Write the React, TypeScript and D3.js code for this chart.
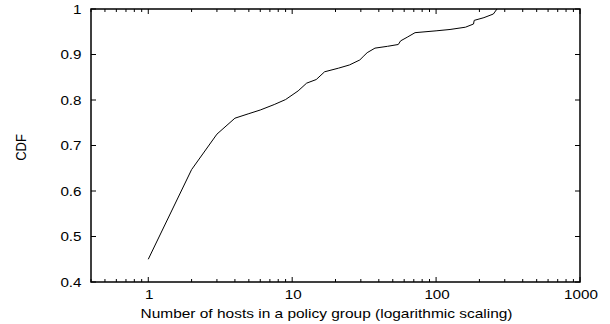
import React from "react";
import * as d3 from "d3";

const hosts = [1, 2, 3, 4, 5, 6, 7.5, 9, 11, 12.6, 14.7, 16.8, 21, 25, 29.5, 31.5, 33.2, 37.6, 46, 54.6, 56.7, 63, 71.4, 100, 125, 160, 182, 184, 215, 250, 265];
const cdf = [0.45, 0.647, 0.725, 0.76, 0.77, 0.778, 0.79, 0.801, 0.82, 0.837, 0.845, 0.862, 0.87, 0.877, 0.888, 0.897, 0.904, 0.914, 0.918, 0.922, 0.930, 0.938, 0.948, 0.952, 0.955, 0.96, 0.967, 0.975, 0.981, 0.989, 1.0];
const xTickValues = [1, 10, 100, 1000];
const yTickValues = [0.4, 0.5, 0.6, 0.7, 0.8, 0.9, 1];
const xTitle = "Number of hosts in a policy group (logarithmic scaling)";
const yTitle = "CDF";

const W = 610, H = 324;
const L = 91, R = 580, T = 9, B = 282;
const FONT = "'Liberation Sans', Arial, Helvetica, sans-serif";
const SX = 1.17;

export default function App() {
  const x = d3.scaleLog().domain([0.4, 1000]).range([L, R]);
  const y = d3.scaleLinear().domain([0.4, 1]).range([B, T]);
  const minor: number[] = [];
  for (let e = -1; e <= 2; e++) {
    for (let m = 2; m <= 9; m++) {
      const v = m * Math.pow(10, e);
      if (v >= 0.4 && v < 1000) minor.push(v);
    }
  }
  const pts = hosts.map((h, i) => [h, cdf[i]] as [number, number]);
  const line = d3.line<[number, number]>().x(d => x(d[0])).y(d => y(d[1]));
  const yLabel = (v: number) => (v === 1 ? "1" : d3.format(".1f")(v));
  return (
    <svg width={W} height={H} style={{ position: "absolute", left: 0, top: 0 }} fontFamily={FONT}>
      <rect width={W} height={H} fill="#fff" />
      {minor.map(v => (
        <g key={"m" + v} stroke="#000" strokeWidth={1}>
          <line x1={x(v)} x2={x(v)} y1={B} y2={B - 3} />
          <line x1={x(v)} x2={x(v)} y1={T} y2={T + 3} />
        </g>
      ))}
      {xTickValues.map(v => (
        <g key={"x" + v}>
          <line x1={x(v)} x2={x(v)} y1={B} y2={B - 5} stroke="#000" />
          <line x1={x(v)} x2={x(v)} y1={T} y2={T + 5} stroke="#000" />
          <text transform={`translate(${x(v) + 1},299) scale(${SX},1)`} fontSize={13} textAnchor="middle" fill="#000">{v}</text>
        </g>
      ))}
      {yTickValues.map(v => (
        <g key={"y" + v}>
          <line x1={L} x2={L + 5} y1={y(v)} y2={y(v)} stroke="#000" />
          <line x1={R} x2={R - 5} y1={y(v)} y2={y(v)} stroke="#000" />
          <text transform={`translate(81.5,${y(v) + 4.7}) scale(${SX},1)`} fontSize={13} textAnchor="end" fill="#000">{yLabel(v)}</text>
        </g>
      ))}
      <rect x={L} y={T} width={R - L} height={B - T} fill="none" stroke="#000" strokeWidth={1.5} />
      <path d={line(pts) || ""} fill="none" stroke="#000" strokeWidth={1} />
      <text x={326.5} y={318} fontSize={13} textAnchor="middle" textLength={372} lengthAdjust="spacingAndGlyphs" fill="#000">{xTitle}</text>
      <text transform={`translate(25.5,${147.5}) scale(${SX},1) rotate(-90)`} fontSize={13} textAnchor="middle" fill="#000">{yTitle}</text>
    </svg>
  );
}
